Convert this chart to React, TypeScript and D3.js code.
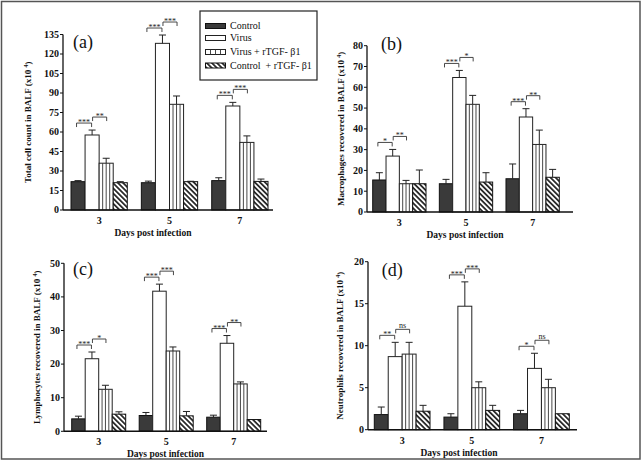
import React from "react";
import * as d3 from "d3";

const groups = ["3", "5", "7"];
const seriesNames = ["Control", "Virus", "Virus + rTGF- β1", "Control  + rTGF- β1"];

// values indexed [group][series]
const totalMean = [[21.8, 57.7, 36, 21], [21, 128.2, 81.3, 21.8], [22.6, 80, 52, 22]];
const totalErr = [[0.8, 3.8, 3.8, 0.8], [1.2, 6.4, 6.4, 0.3], [2.2, 2.8, 5, 1.8]];
const macroMean = [[15.4, 26.9, 13.6, 13.6], [13.6, 64.7, 51.8, 14.4], [16, 45.7, 32.5, 16.7]];
const macroErr = [[3.5, 3.2, 1.6, 6.6], [2.1, 3.4, 4.3, 4.5], [7.1, 4, 6.9, 3.8]];
const lymphMean = [[3.7, 21.6, 12.5, 5.1], [4.7, 41.7, 23.9, 4.6], [4.2, 26.2, 14.1, 3.5]];
const lymphErr = [[0.8, 2, 1.2, 0.7], [0.9, 2.1, 1.2, 1.3], [0.6, 2.3, 0.6, 0.2]];
const neutMean = [[1.8, 8.7, 9.0, 2.2], [1.5, 14.7, 5.0, 2.3], [1.9, 7.3, 5.0, 1.9]];
const neutErr = [[0.9, 1.7, 1.4, 0.7], [0.4, 2.9, 0.7, 0.6], [0.4, 1.8, 1.0, 0.2]];

// significance labels per group: [control vs virus, virus vs virus+rTGF]
const totalSig = [["***", "**"], ["***", "***"], ["***", "***"]];
const macroSig = [["*", "**"], ["***", "*"], ["***", "**"]];
const lymphSig = [["***", "*"], ["***", "***"], ["***", "**"]];
const neutSig = [["**", "ns"], ["***", "***"], ["*", "ns"]];

const totalTicks = [0, 15, 30, 45, 60, 75, 90, 105, 120, 135];
const macroTicks = [0, 10, 20, 30, 40, 50, 60, 70, 80];
const lymphTicks = [0, 10, 20, 30, 40, 50];
const neutTicks = [0, 5, 10, 15, 20];

const FONT = "'Liberation Serif', 'Times New Roman', serif";

const panels = [
  { id: "a", letter: "(a)", ylabel: "Total cell count in BALF (x10 ", mean: totalMean, err: totalErr, sig: totalSig, ticks: totalTicks,
    x0: 63, x1: 273, bandL: 71, bandR: 268, yZero: 210, yTop: 34.5, labelDx: 35, xLabelX: 153, letterX: 73, letterY: 48 },
  { id: "b", letter: "(b)", ylabel: "Macrophages recovered in BALF (x10 ", mean: macroMean, err: macroErr, sig: macroSig, ticks: macroTicks,
    x0: 367, x1: 573, bandL: 372.7, bandR: 559.3, yZero: 212, yTop: 45.7, labelDx: 26, xLabelX: 465, letterX: 381, letterY: 50 },
  { id: "c", letter: "(c)", ylabel: "Lymphocytes recovered in BALF (x10 ", mean: lymphMean, err: lymphErr, sig: lymphSig, ticks: lymphTicks,
    x0: 64, x1: 267, bandL: 71.7, bandR: 260.7, yZero: 431.3, yTop: 263.3, labelDx: 27, xLabelX: 165.5, letterX: 73, letterY: 275 },
  { id: "d", letter: "(d)", ylabel: "Neutrophils recovered in BALF (x10 ", mean: neutMean, err: neutErr, sig: neutSig, ticks: neutTicks,
    x0: 368, x1: 577, bandL: 374.3, bandR: 569.3, yZero: 429.7, yTop: 261.7, labelDx: 28, xLabelX: 459, letterX: 381.7, letterY: 276 },
];

function Bar({ x, y, w, h, kind }: { x: number; y: number; w: number; h: number; kind: number }) {
  if (kind === 0) return <rect x={x} y={y} width={w} height={h} fill="#3a3a3a" stroke="#111" strokeWidth={1} />;
  if (kind === 1) return <rect x={x} y={y} width={w} height={h} fill="#fff" stroke="#222" strokeWidth={1} />;
  if (kind === 2)
    return (
      <g>
        <rect x={x} y={y} width={w} height={h} fill="#fff" stroke="#222" strokeWidth={1} />
        {[1, 2, 3].map((k) => (
          <line key={k} x1={x + (w * k) / 4} x2={x + (w * k) / 4} y1={y} y2={y + h} stroke="#333" strokeWidth={0.9} />
        ))}
      </g>
    );
  return <rect x={x} y={y} width={w} height={h} fill="url(#hatch)" stroke="#111" strokeWidth={1} />;
}

function Panel({ p }: { p: (typeof panels)[number] }) {
  const maxTick = p.ticks[p.ticks.length - 1];
  const y = d3.scaleLinear().domain([0, maxTick]).range([p.yZero, p.yTop]);
  const xg = d3.scaleBand().domain(groups).range([p.bandL, p.bandR]).paddingInner(0.2);
  const xs = d3.scaleBand<number>().domain([0, 1, 2, 3]).range([0, xg.bandwidth()]);
  const bw = xs.bandwidth();
  const midY = (p.yZero + p.yTop) / 2;
  const lx = p.x0 - p.labelDx + 3;

  return (
    <g>
      {/* bars */}
      {groups.map((g, gi) =>
        p.mean[gi].map((v, si) => {
          const bx = (xg(g) as number) + (xs(si) as number);
          const top = y(v);
          const cx = bx + bw / 2;
          const et = y(v + p.err[gi][si]);
          return (
            <g key={g + si}>
              <Bar x={bx} y={top} w={bw} h={p.yZero - top} kind={si} />
              {p.err[gi][si] > 0.25 && (
                <g stroke="#222" strokeWidth={1}>
                  <line x1={cx} x2={cx} y1={top} y2={et} />
                  <line x1={cx - 3.5} x2={cx + 3.5} y1={et} y2={et} />
                </g>
              )}
            </g>
          );
        })
      )}
      {/* significance brackets */}
      {groups.map((g, gi) =>
        p.sig[gi].map((lab, k) => {
          const a = k;
          const b = k + 1;
          const ca = (xg(g) as number) + (xs(a) as number) + bw / 2;
          const cb = (xg(g) as number) + (xs(b) as number) + bw / 2;
          const topA = y(p.mean[gi][a] + p.err[gi][a]);
          const topB = y(p.mean[gi][b] + p.err[gi][b]);
          const base = Math.min(
            y(p.mean[gi][0] + p.err[gi][0]),
            y(p.mean[gi][1] + p.err[gi][1])
          );
          const ly = Math.min(base, topA, topB) - (k === 0 ? 7 : 13);
          const xa = k === 0 ? ca - 1.5 : ca + 0.5;
          const xb = k === 0 ? cb - 0.5 : cb + 0.5;
          return (
            <g key={g + "s" + k}>
              <path d={`M${xa},${ly + 4}V${ly}H${xb}V${ly + 4}`} fill="none" stroke="#333" strokeWidth={0.9} />
              <text x={(xa + xb) / 2} y={lab === "ns" ? ly - 1.5 : ly + 2} textAnchor="middle" fontFamily={FONT}
                fontSize={lab === "ns" ? 8 : 8} fill="#222">{lab}</text>
            </g>
          );
        })
      )}
      {/* axes */}
      <line x1={p.x0} x2={p.x0} y1={p.yZero} y2={p.yTop} stroke="#111" strokeWidth={1.3} />
      <line x1={p.x0} x2={p.x1} y1={p.yZero} y2={p.yZero} stroke="#111" strokeWidth={1.4} />
      {p.ticks.map((t) => (
        <g key={t}>
          <line x1={p.x0 - 3} x2={p.x0} y1={y(t)} y2={y(t)} stroke="#111" strokeWidth={1} />
          <text x={p.x0 - 4} y={y(t) + 3.3} textAnchor="end" fontFamily={FONT} fontWeight="bold" fontSize={10} fill="#111">
            {t}
          </text>
        </g>
      ))}
      {groups.map((g) => (
        <text key={g} x={(xg(g) as number) + xg.bandwidth() / 2} y={p.yZero + 14} textAnchor="middle"
          fontFamily={FONT} fontWeight="bold" fontSize={10} fill="#111">{g}</text>
      ))}
      <text x={p.xLabelX} y={p.yZero + 26} textAnchor="middle" fontFamily={FONT} fontWeight="bold" fontSize={9.5} fill="#111">
        Days post infection
      </text>
      <text transform={`translate(${lx},${midY}) rotate(-90)`} textAnchor="middle" fontFamily={FONT} fontWeight="bold"
        fontSize={9} fill="#111">
        {p.ylabel}
        <tspan fontSize={6} dy={-3.5}>4</tspan>
        <tspan dy={3.5}>)</tspan>
      </text>
      <text x={p.letterX} y={p.letterY} fontFamily={FONT} fontSize={18} fill="#111">{p.letter}</text>
    </g>
  );
}

function Legend() {
  const rowsY = [26, 38, 52, 65.5];
  return (
    <g>
      <rect x={200} y={11} width={117} height={69} fill="#fff" stroke="#222" strokeWidth={1.2} />
      {seriesNames.map((s, i) => (
        <g key={s}>
          <Bar x={205.5} y={rowsY[i] - 2.5} w={20} h={5} kind={i} />
          <text x={230} y={rowsY[i] + 3.3} fontFamily={FONT} fontSize={10} fill="#111" xmlSpace="preserve">{s}</text>
        </g>
      ))}
    </g>
  );
}

export default function App() {
  return (
    <svg width={642} height={469} style={{ position: "absolute", left: 0, top: 0, background: "#fff" }}>
      <defs>
        <pattern id="hatch" patternUnits="userSpaceOnUse" width={3.6} height={3.6} patternTransform="rotate(-45)">
          <rect width={3.6} height={3.6} fill="#fff" />
          <line x1={0.9} x2={0.9} y1={0} y2={3.6} stroke="#111" strokeWidth={1.6} />
        </pattern>
      </defs>
      <rect x={0} y={0} width={642} height={469} fill="#fff" />
      <rect x={1.5} y={1.5} width={638.5} height={457.5} fill="none" stroke="#555" strokeWidth={1.5} />
      {panels.map((p) => (
        <Panel key={p.id} p={p} />
      ))}
      <Legend />
    </svg>
  );
}
